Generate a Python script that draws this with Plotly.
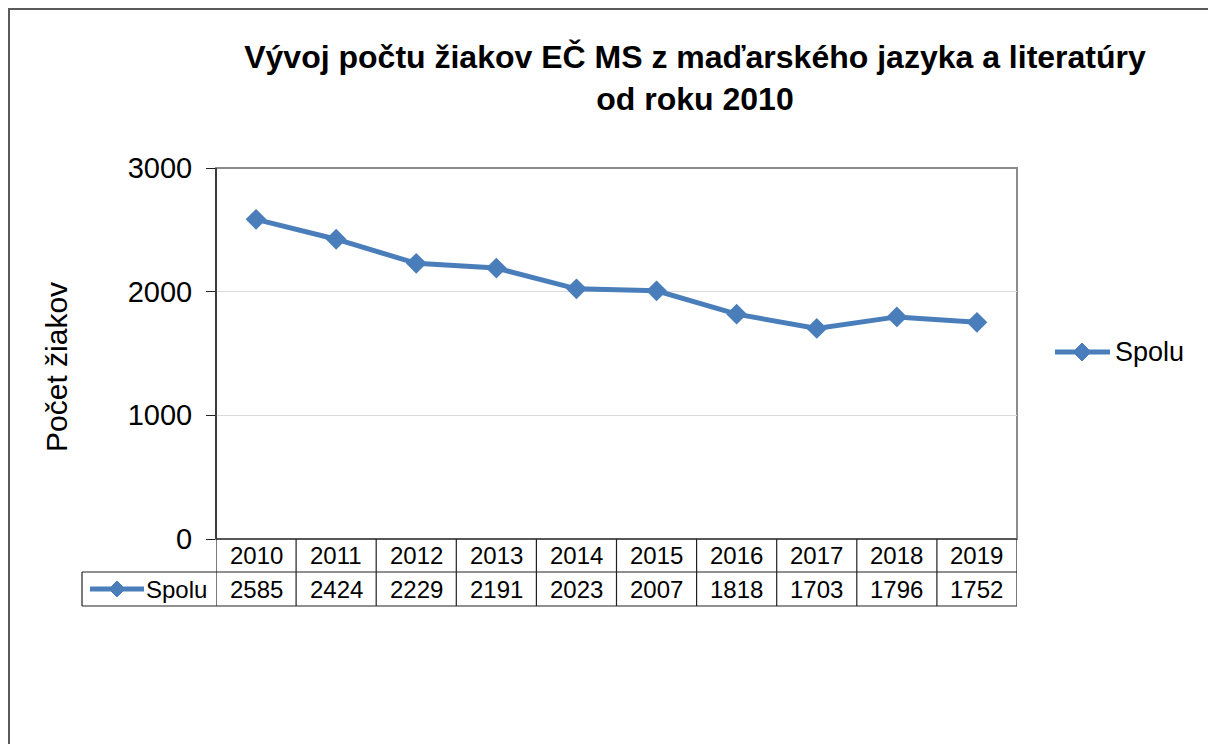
import plotly.graph_objects as go

years = ["2010", "2011", "2012", "2013", "2014", "2015", "2016", "2017", "2018", "2019"]
spolu = [2585, 2424, 2229, 2191, 2023, 2007, 1818, 1703, 1796, 1752]
series_name = "Spolu"
y_ticks = [0, 1000, 2000, 3000]

FONT = "Arial, 'Liberation Sans', sans-serif"
BLUE = "#4A7EBB"
W, H = 1208, 744
L, R, T, B = 216, 1017, 168, 539  # plot area in px


def px_x(px):
    return (px - L) / (R - L)


def px_y(py):
    return (B - py) / (B - T)


def diamond(cx, cy, d):
    return (f"M {px_x(cx - d)} {px_y(cy)} L {px_x(cx)} {px_y(cy - d)} "
            f"L {px_x(cx + d)} {px_y(cy)} L {px_x(cx)} {px_y(cy + d)} Z")


xs = list(range(len(years)))

fig = go.Figure()
fig.add_trace(go.Scatter(
    x=xs, y=spolu, mode="lines+markers", name=series_name,
    line=dict(color=BLUE, width=5),
    marker=dict(symbol="diamond", size=16, color=BLUE),
    showlegend=False,
))

shapes = []
# outer chart border
shapes.append(dict(type="rect", xref="paper", yref="paper",
                   x0=px_x(9), x1=px_x(1230), y0=px_y(770), y1=px_y(9),
                   line=dict(color="#5a5a5a", width=2), layer="below"))
# plot area border (gray top/right)
shapes.append(dict(type="rect", xref="paper", yref="paper", x0=0, x1=1, y0=0, y1=1,
                   line=dict(color="#8c8c8c", width=2), layer="below"))
# left axis line (dark)
shapes.append(dict(type="line", xref="paper", yref="paper", x0=0, x1=0, y0=0, y1=1,
                   line=dict(color="#222", width=1.5)))

# data table lines
row1 = px_y(572)
row2 = px_y(606)
dark = dict(color="#222", width=1.2)
shapes.append(dict(type="line", xref="paper", yref="paper", x0=0, x1=1, y0=0, y1=0, line=dark))
shapes.append(dict(type="line", xref="paper", yref="paper", x0=px_x(82), x1=1, y0=row1, y1=row1, line=dark))
shapes.append(dict(type="line", xref="paper", yref="paper", x0=px_x(82), x1=1, y0=row2, y1=row2, line=dark))
shapes.append(dict(type="line", xref="paper", yref="paper", x0=px_x(82), x1=px_x(82), y0=row1, y1=row2, line=dark))
for i in range(len(years) + 1):
    shapes.append(dict(type="line", xref="x", yref="paper", x0=i - 0.5, x1=i - 0.5,
                       y0=0, y1=row2, line=dark))
# legend key inside table
ky = (row1 + row2) / 2
shapes.append(dict(type="line", xref="paper", yref="paper", x0=px_x(90), x1=px_x(144),
                   y0=ky, y1=ky, line=dict(color=BLUE, width=5)))
shapes.append(dict(type="path", xref="paper", yref="paper", path=diamond(117, 589, 8),
                   fillcolor=BLUE, line=dict(color=BLUE, width=1)))
# right-hand legend key
shapes.append(dict(type="line", xref="paper", yref="paper", x0=px_x(1055), x1=px_x(1110),
                   y0=px_y(352), y1=px_y(352), line=dict(color=BLUE, width=5)))
shapes.append(dict(type="path", xref="paper", yref="paper", path=diamond(1082, 352, 9),
                   fillcolor=BLUE, line=dict(color=BLUE, width=1)))

annotations = []
mid1 = (0 + row1) / 2
for i, yr in enumerate(years):
    annotations.append(dict(x=i, y=mid1, xref="x", yref="paper", text=yr, showarrow=False,
                            font=dict(family=FONT, size=24, color="#000"), yanchor="middle"))
    annotations.append(dict(x=i, y=ky, xref="x", yref="paper", text=str(spolu[i]), showarrow=False,
                            font=dict(family=FONT, size=24, color="#000"), yanchor="middle"))
annotations.append(dict(x=px_x(209), y=ky, xref="paper", yref="paper", text=series_name,
                        showarrow=False, xanchor="right", yanchor="middle",
                        font=dict(family=FONT, size=24, color="#000")))
annotations.append(dict(x=px_x(1113), y=px_y(352), xref="paper", yref="paper", text=series_name,
                        showarrow=False, xanchor="left", yanchor="middle",
                        font=dict(family=FONT, size=27, color="#000")))
# y axis title
annotations.append(dict(x=px_x(56), y=px_y(367), xref="paper", yref="paper", text="Počet žiakov",
                        textangle=-90, showarrow=False, xanchor="center", yanchor="middle",
                        font=dict(family=FONT, size=30, color="#000")))

fig.update_layout(
    width=W, height=H,
    margin=dict(l=L, r=W - R, t=T, b=H - B, pad=0),
    paper_bgcolor="white", plot_bgcolor="white",
    font=dict(family=FONT, color="#000"),
    title=dict(text="<b>Vývoj počtu žiakov EČ MS z maďarského jazyka a literatúry<br>od roku 2010</b>",
               x=px_x(695), xref="paper", xanchor="center",
               y=1 - 68 / H, yref="container", yanchor="middle",
               font=dict(family=FONT, size=32, color="#000")),
    showlegend=False,
    xaxis=dict(range=[-0.5, len(years) - 0.5], showticklabels=False, showgrid=False,
               zeroline=False, showline=False, ticks="", fixedrange=True),
    yaxis=dict(range=[0, 3000], tickvals=y_ticks, ticktext=[str(v) for v in y_ticks],
               showgrid=True, gridcolor="#d9d9d9", gridwidth=1, zeroline=False,
               showline=False, ticks="outside", ticklen=9, tickcolor="#222",
               tickfont=dict(family=FONT, size=29, color="#000"), ticklabelstandoff=8),
    shapes=shapes, annotations=annotations,
)

fig.write_html("out.html", post_script="document.body.style.margin='0';",
               config={"displayModeBar": False})
